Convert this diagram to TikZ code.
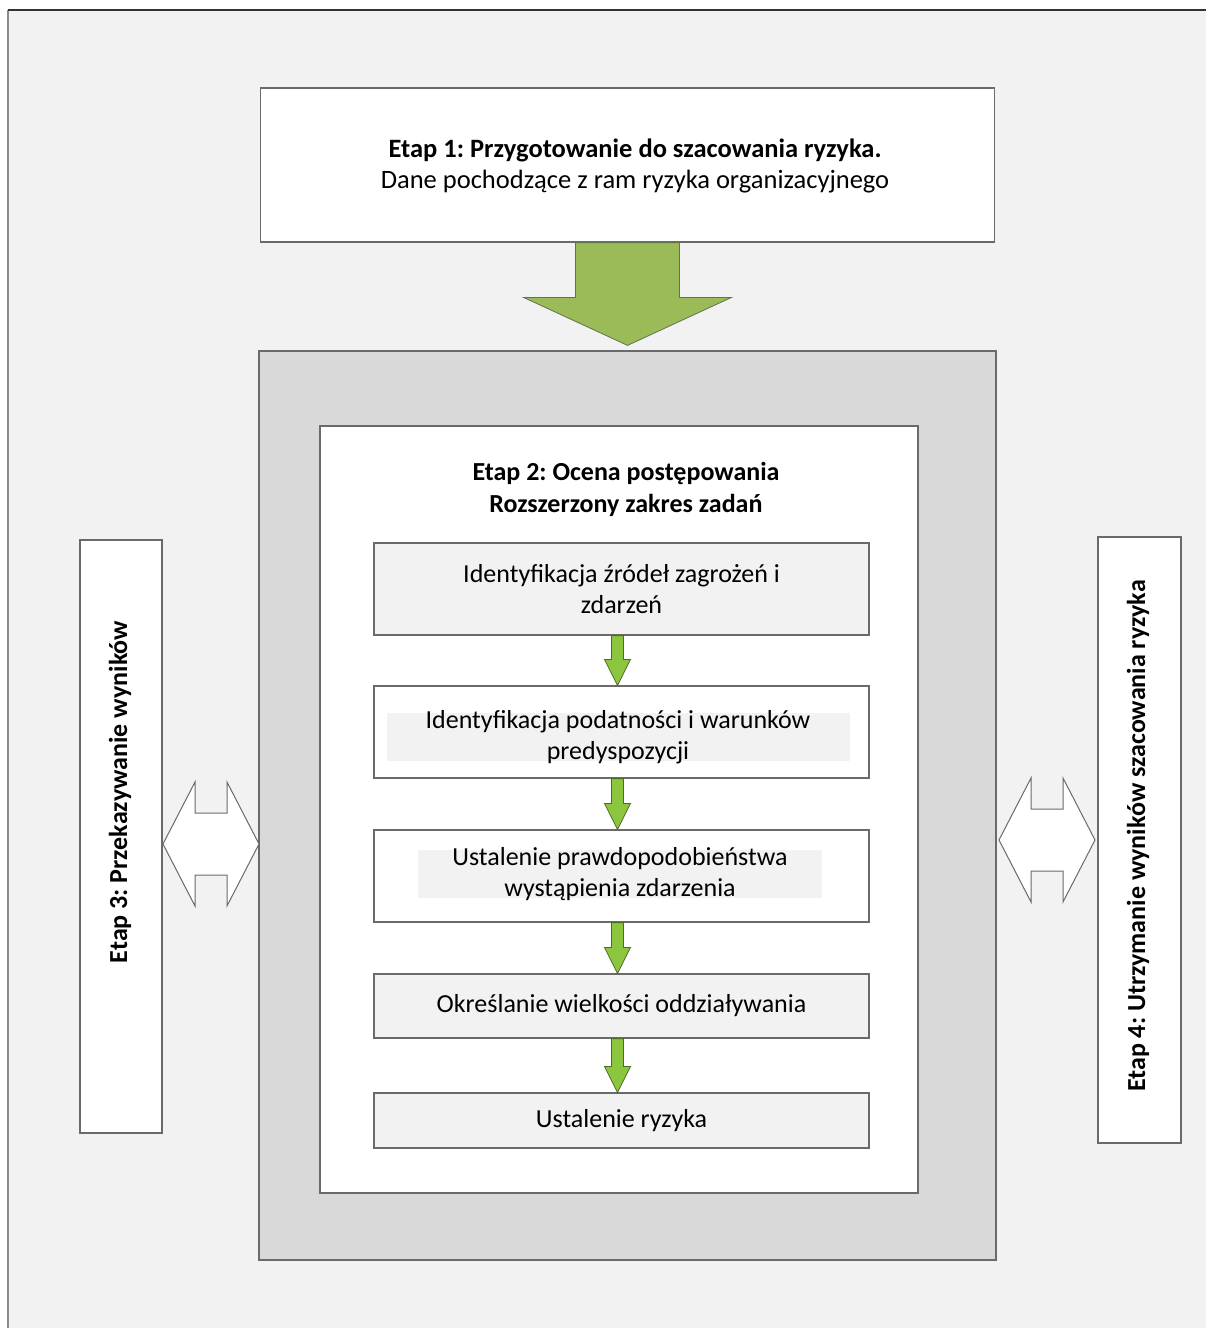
\documentclass[tikz,border=0pt]{standalone}
\usepackage{fontspec}
\setmainfont{Carlito}
\frenchspacing
\definecolor{panelgray}{HTML}{F2F2F2}
\definecolor{framegray}{HTML}{D9D9D9}
\definecolor{linegray}{HTML}{6A6A6A}
\definecolor{biggreen}{HTML}{9BBB59}
\definecolor{smallgreen}{HTML}{8CC63F}
\definecolor{greenline}{HTML}{4F6B2C}
\tikzset{
  boxfont/.style={font=\fontsize{26}{30.5}\selectfont},
  titlefont/.style={font=\fontsize{26}{32}\selectfont\bfseries},
  stagebox/.style={draw=linegray, line width=1.2pt, fill=white, inner sep=0pt, align=center},
  stepbox/.style={draw=linegray, line width=1.2pt, fill=panelgray, minimum width=495,
    minimum height=92, inner sep=0pt, align=center, boxfont},
  textband/.style={fill=panelgray},
  bigarrow/.style={draw=greenline!60!gray, line width=0.8pt, fill=biggreen},
  smallarrow/.style={draw=greenline, line width=0.8pt, fill=smallgreen},
  twoarrow/.style={draw=linegray, line width=1pt, fill=white}
}
\begin{document}
\begin{tikzpicture}[x=1pt, y=-1pt]
  \useasboundingbox (0,0) rectangle (1206,1328);

  % Drawing background panel
  \fill[panelgray] (8,10) rectangle (1206,1328);
  \draw[line width=1.6pt, black!45] (8,1328) -- (8,10);
  \draw[line width=1.6pt, black!80] (8,10) -- (1206,10);

  % Drawing stage 1 box
  \node[stagebox, minimum width=734, minimum height=154] (etapA) at (627.5,165) {};
  \node[align=center, font=\fontsize{26.5}{31}\selectfont] (etapAtext) at (635,166)
    {\textbf{Etap 1: Przygotowanie do szacowania ryzyka.}\\Dane pochodzące z ram ryzyka organizacyjnego};

  % Drawing stage 2 frame
  \node[draw=linegray, line width=1.2pt, fill=framegray, minimum width=737,
    minimum height=909] (frame) at (627.5,805.5) {};
  \node[stagebox, minimum width=598, minimum height=767] (inner) at (619,809.5) {};
  \node[align=center, titlefont] (title) at (626,489)
    {Etap 2: Ocena postępowania\\Rozszerzony zakres zadań};

  % Drawing big arrow from stage 1 to stage 2
  \draw[bigarrow] ([xshift=-52]etapA.south) -- ([xshift=52]etapA.south)
    -- ([xshift=52,yshift=53]frame.north) -- ([xshift=104,yshift=53]frame.north)
    -- ([yshift=5]frame.north) -- ([xshift=-104,yshift=53]frame.north)
    -- ([xshift=-52,yshift=53]frame.north) -- cycle;

  % Drawing steps of stage 2
  \node[stepbox] (stepA) at (621.5,589) {Identyfikacja źródeł zagrożeń i\\zdarzeń};

  \node[stepbox, fill=white] (stepB) at (621.5,732) {};
  \fill[textband] (387,713) rectangle (850,761);
  \node[align=center, boxfont] (stepBtext) at (618,737)
    {Identyfikacja podatności i warunków\\predyspozycji};

  \node[stepbox, fill=white] (stepC) at (621.5,876) {};
  \fill[textband] (418,850) rectangle (822,898);
  \node[align=center, boxfont] (stepCtext) at (620,874)
    {Ustalenie prawdopodobieństwa\\wystąpienia zdarzenia};

  \node[stepbox, minimum height=64] (stepD) at (621.5,1006) {Określanie wielkości oddziaływania};
  \node[stepbox, minimum height=55] (stepE) at (621.5,1120.5) {Ustalenie ryzyka};

  % Drawing small arrows between steps
  \foreach \upper/\lower in {stepA/stepB, stepB/stepC, stepC/stepD, stepD/stepE}
    \draw[smallarrow] ([xshift=-10]\upper.south) -- ([xshift=2]\upper.south)
      -- ([xshift=2,yshift=26]\lower.north) -- ([xshift=9,yshift=26]\lower.north)
      -- ([xshift=-4]\lower.north) -- ([xshift=-17,yshift=26]\lower.north)
      -- ([xshift=-10,yshift=26]\lower.north) -- cycle;

  % Drawing stage 3 and stage 4 boxes
  \node[stagebox, minimum width=82, minimum height=593] (etapC) at (121,836.5) {};
  \node[rotate=90, titlefont] (etapCtext) at (120,792) {Etap 3: Przekazywanie wyników};
  \node[stagebox, minimum width=83, minimum height=606] (etapD) at (1139.5,840) {};
  \node[rotate=90, titlefont] (etapDtext) at (1138,836) {Etap 4: Utrzymanie wyników szacowania ryzyka};

  % Drawing double arrows
  \coordinate (linkL) at (211,844);
  \coordinate (linkR) at (1047,840);
  \foreach \mid in {linkL, linkR}
    \draw[twoarrow] ([xshift=-48]\mid) -- ([xshift=-16,yshift=62]\mid)
      -- ([xshift=-16,yshift=31]\mid) -- ([xshift=16,yshift=31]\mid)
      -- ([xshift=16,yshift=62]\mid) -- ([xshift=48]\mid)
      -- ([xshift=16,yshift=-62]\mid) -- ([xshift=16,yshift=-31]\mid)
      -- ([xshift=-16,yshift=-31]\mid) -- ([xshift=-16,yshift=-62]\mid) -- cycle;
\end{tikzpicture}
\end{document}
